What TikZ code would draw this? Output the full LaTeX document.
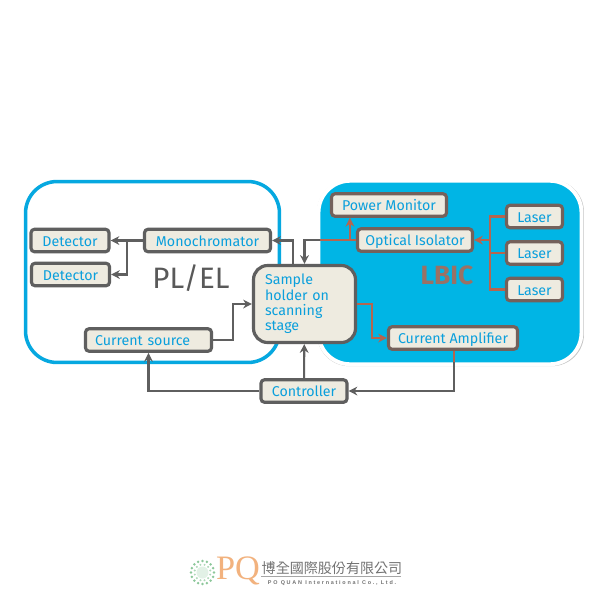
\documentclass[tikz,border=0pt]{standalone}
\usepackage{fontspec}
\setmainfont{Fira Sans}
\newfontfamily\cjkfont{Noto Sans CJK TC}
\newfontfamily\logofont{Liberation Serif}
\newfontfamily\logospaced[LetterSpace=32]{Liberation Sans}
\usetikzlibrary{positioning, arrows.meta, shadows, calc}
\usepackage{xcolor}
\definecolor{boxfill}{HTML}{EEEBE0}
\definecolor{labelblue}{HTML}{0A9FDC}
\definecolor{panelblue}{HTML}{00B5E5}
\definecolor{linegray}{HTML}{5F5F5F}
\definecolor{linered}{HTML}{B5654F}
\definecolor{logogreen}{HTML}{8CC79A}
\definecolor{logoorange}{HTML}{F2B27E}

\begin{document}
\begin{tikzpicture}[x=0.02cm, y=-0.02cm, node distance=0.73cm, auto]
% Define styles
\tikzstyle{basebox} = [rectangle, rounded corners=2pt, inner sep=0pt, text centered, draw=linegray, line width=1.8pt, fill=boxfill, text=labelblue, font=\fontsize{8.1}{8.7}\selectfont, drop shadow={shadow xshift=0.6pt, shadow yshift=-0.6pt, fill=gray, opacity=0.4}]
\tikzstyle{unit} = [basebox, minimum height=0.45cm, text height=6.9pt, text depth=0.6pt]
\tikzstyle{redunit} = [unit, draw=linegray!75!linered]
\tikzstyle{arrow} = [line width=1.2pt, ->, >={Stealth[length=5pt, width=5pt]}, draw=linegray]
\tikzstyle{redarrow} = [line width=1.2pt, ->, >={Stealth[length=5pt, width=5pt]}, draw=linered]
\tikzstyle{redline} = [line width=1.2pt, draw=linered]

\useasboundingbox (0,0) rectangle (600,600);
\fill [white] (0,0) rectangle (600,600);

% Panels
\node (plel) [rectangle, rounded corners=18pt, draw=labelblue!60!panelblue, line width=2pt, fill=white, minimum width=5.08cm, minimum height=3.62cm, inner sep=0pt] at (152.5,272) {};
\node (lbic) [rectangle, rounded corners=18pt, draw=white, line width=2.2pt, fill=panelblue, minimum width=5.26cm, minimum height=3.67cm, inner sep=0pt, drop shadow={shadow xshift=0.3pt, shadow yshift=-0.3pt, shadow scale=1.015, fill=gray, opacity=0.45}] at (450,272.5) {};
\node (plellabel) [text=black!65, font=\fontsize{16.8}{16.8}\selectfont] at (191,278) {PL/EL};
\node (lbiclabel) [text=linered!85!panelblue, font=\fontsize{15}{15}\bfseries\selectfont] at (447,275) {LBIC};

% Left side units
\node (detectora) [unit, minimum width=1.56cm] at (70,240.5) {Detector};
\node (detectorb) [unit, minimum width=1.56cm] at (70.5,274.5) {Detector};
\node (mono) [unit, minimum width=2.52cm] at (207.5,240.5) {Monochromator};
\node (source) [unit, minimum width=2.52cm, text width=2.14cm, align=left] at (148.5,340) {Current source};
\node (sample) [basebox, rounded corners=8pt, minimum width=2.04cm, minimum height=1.54cm, text width=1.58cm, align=left] at (304.5,304) {Sample\\holder on\\scanning\\stage};
\node (controller) [unit, minimum width=1.72cm] at (304,391) {Controller};

% Right side units
\node (monitor) [redunit, minimum width=2.3cm] at (389,205) {Power Monitor};
\node (isolator) [redunit, minimum width=2.3cm] at (415,240) {Optical Isolator};
\node (lasertwo) [redunit, minimum width=1.12cm] at (534.5,253) {Laser};
\node (laserone) [redunit, minimum width=1.12cm, above of=lasertwo] {Laser};
\node (laserthree) [redunit, minimum width=1.12cm, below of=lasertwo] {Laser};
\node (amplifier) [redunit, minimum width=2.58cm] at (453,338) {Current Amplifier};

% Branch points and the points where lines leave the blue panel
\coordinate (split) at (127,240.5);
\coordinate (tap) at ([xshift=-0.12cm]isolator.west);
\coordinate (isoedge) at (320,240);
\coordinate (ampedge) at (454,362);
\coordinate (bus) at (490,240);

% Detector arrows
\draw [arrow] (mono) -- (detectora);
\draw [arrow] (split) |- (detectorb);

% Sample and monochromator
\draw [arrow] ([xshift=-0.23cm]sample.north) |- (mono);
\draw [redline] (isolator) -- (isoedge);
\draw [arrow] (isoedge) -| (sample);

% Power monitor
\draw [redarrow] (tap) -- (tap |- monitor.south);

% Lasers
\draw [redarrow] (bus) -- (isolator);
\draw [redline] (laserone) -| (bus);
\draw [redline] (lasertwo) -| (bus);
\draw [redline] (laserthree) -| (bus);

% Sample and current path
\draw [arrow] (source.east) -- ++(20,0) |- (sample.west);
\draw [redarrow] (sample.east) -- ++(15,0) |- (amplifier.west);
\draw [redline] (amplifier.south -| ampedge) -- (ampedge);
\draw [arrow] (ampedge) |- (controller);

% Controller arrows
\draw [arrow] (controller) -- (sample);
\draw [arrow] (controller) -| (source);

% Logo
\fill [logogreen!25] (202.5,572.5) circle (6);
\foreach \ang in {0,22.5,...,337.5} {
  \fill [logogreen] (202.5,572.5) ++(\ang:11.5) circle (1.4);
}
\foreach \ang in {0,30,...,330} {
  \fill [logogreen!70] (202.5,572.5) ++(\ang+15:8) circle (1.1);
}
\node (logoq) [text=logoorange, font=\logofont\fontsize{19.5}{20}\selectfont, inner sep=0pt] at (238,571) {PQ};
\node (logoname) [text=black!55, font=\cjkfont\fontsize{8}{8}\selectfont, inner sep=0pt] at (332,568) {博全國際股份有限公司};
\draw [black!35, line width=0.6pt] (logoname.south west) ++(0,1.5) -- ++(140,0);
\node (logoen) [text=black!55, font=\logospaced\fontsize{3.1}{4}\bfseries\selectfont, inner sep=0pt] at (332,583) {PO QUAN International Co., Ltd.};
\end{tikzpicture}
\end{document}
